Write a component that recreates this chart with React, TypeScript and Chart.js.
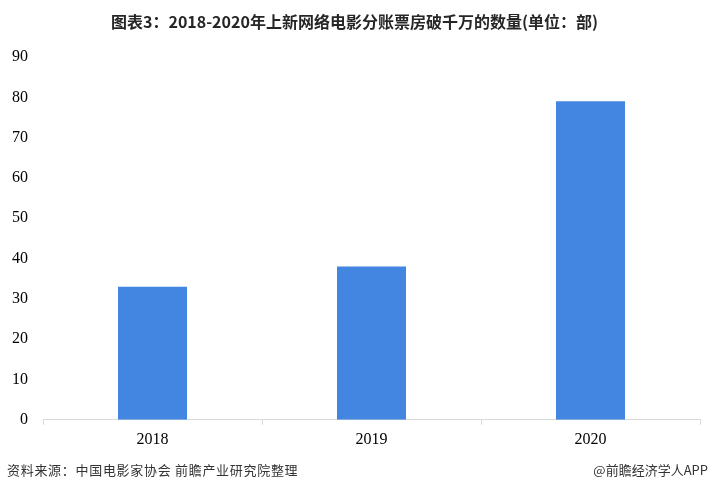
import React, { useEffect, useRef } from "react";
import { Chart, registerables } from "chart.js";

Chart.register(...registerables);

const categories = ["2018", "2019", "2020"];
const values = [33, 38, 79];
const yTicks = [0, 10, 20, 30, 40, 50, 60, 70, 80, 90];

const titleText = "图表3：2018-2020年上新网络电影分账票房破千万的数量(单位：部)";
const sourceText = "资料来源：中国电影家协会 前瞻产业研究院整理";
const brandText = "@前瞻经济学人APP";

export default function App() {
  const ref = useRef<HTMLCanvasElement | null>(null);

  useEffect(() => {
    document.body.style.margin = "0";
    const canvas = ref.current;
    if (!canvas) return;
    const chart = new Chart(canvas, {
      type: "bar",
      data: {
        labels: categories,
        datasets: [
          {
            data: values,
            backgroundColor: "#4286e1",
            borderWidth: 0,
            categoryPercentage: 1,
            barPercentage: 0.315,
          },
        ],
      },
      options: {
        animation: false,
        responsive: false,
        maintainAspectRatio: false,
        layout: { padding: { top: 57, right: 9, bottom: 38, left: 0 } },
        plugins: {
          legend: { display: false },
          title: { display: false },
          tooltip: { enabled: false },
        },
        scales: {
          x: {
            grid: {
              display: true,
              drawOnChartArea: false,
              drawTicks: true,
              tickLength: 5,
              color: "#d9d9d9",
              offset: true,
            },
            border: { display: true, color: "#d9d9d9", width: 1 },
            ticks: {
              color: "#000",
              padding: 5,
              font: { family: "'Liberation Serif', 'Times New Roman', serif", size: 16 },
            },
          },
          y: {
            min: 0,
            max: 90,
            afterFit: (scale: any) => {
              scale.width = 43;
            },
            afterBuildTicks: (scale: any) => {
              scale.ticks = yTicks.map((v) => ({ value: v }));
            },
            grid: { display: false, drawTicks: false },
            border: { display: false },
            ticks: {
              color: "#000",
              padding: 15,
              font: { family: "'Liberation Serif', 'Times New Roman', serif", size: 16 },
            },
          },
        },
      },
    });
    return () => chart.destroy();
  }, []);

  return (
    <div style={{ position: "relative", width: 709, height: 492, background: "#fff", overflow: "hidden" }}>
      <canvas ref={ref} width={709} height={492} style={{ position: "absolute", left: 0, top: 0 }} />
      <div
        style={{
          position: "absolute",
          left: 0,
          top: 10,
          width: 709,
          textAlign: "center",
          fontFamily: "'Noto Sans CJK SC', sans-serif",
          fontWeight: 700,
          fontSize: 16,
          lineHeight: "22px",
          color: "#262626",
          whiteSpace: "nowrap",
        }}
      >
        {titleText}
      </div>
      <div
        style={{
          position: "absolute",
          left: 7,
          top: 461,
          fontFamily: "'Noto Sans CJK SC', sans-serif",
          fontSize: 13,
          lineHeight: "18px",
          letterSpacing: 0.7,
          color: "#333",
          whiteSpace: "nowrap",
        }}
      >
        {sourceText}
      </div>
      <div
        style={{
          position: "absolute",
          right: 1,
          top: 461,
          fontFamily: "'Noto Sans CJK SC', sans-serif",
          fontSize: 13,
          lineHeight: "18px",
          color: "#333",
          whiteSpace: "nowrap",
        }}
      >
        {brandText}
      </div>
    </div>
  );
}
